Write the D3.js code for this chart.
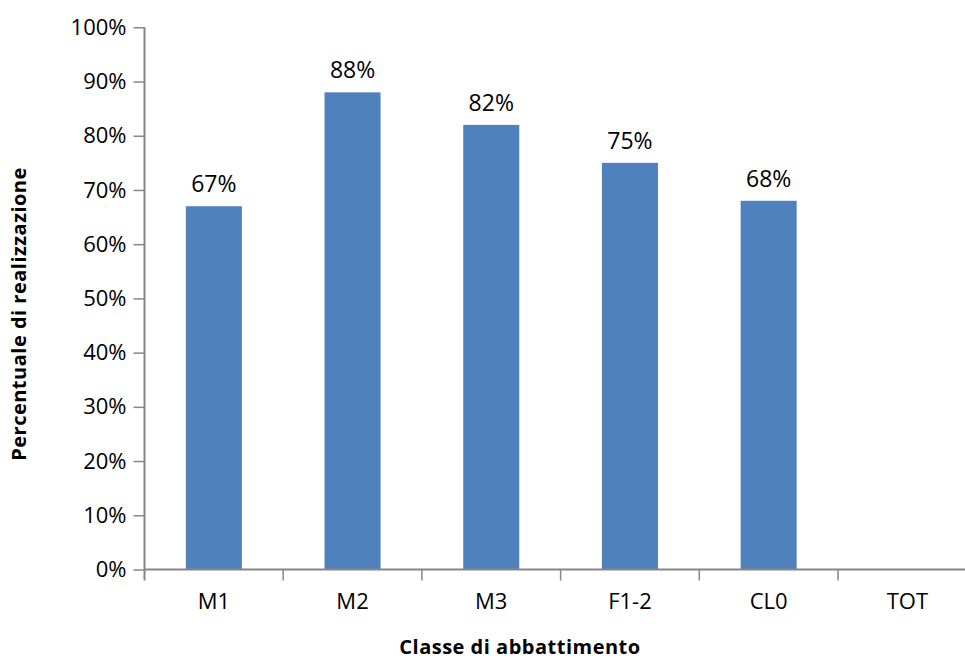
<!DOCTYPE html>
<html>
<head>
<meta charset="utf-8">
<script src="https://cdn.jsdelivr.net/npm/d3@7/dist/d3.min.js"></script>
<style>
  html, body { margin: 0; padding: 0; background: #fff; }
  svg { display: block; }
  text { font-family: "Open Sans", "Liberation Sans", sans-serif; fill: #000; }
</style>
</head>
<body>
<svg id="chart" width="965" height="660"></svg>
<script>
// Categories and realisation percentages (TOT has no value)
const categories = ["M1", "M2", "M3", "F1-2", "CL0", "TOT"];
const values = [0.67, 0.88, 0.82, 0.75, 0.68, null];
const yTicks = [0, 0.1, 0.2, 0.3, 0.4, 0.5, 0.6, 0.7, 0.8, 0.9, 1.0];
const yTitle = "Percentuale di realizzazione";
const xTitle = "Classe di abbattimento";

const svg = d3.select("#chart");
const axisColor = "#868686";
const barColor = "#4F81BD";

const plotLeft = 144.5, plotBottom = 569.5, plotTop = 27.3;
const step = 138.7;

const y = d3.scaleLinear().domain([0, 1]).range([plotBottom, plotTop]);
const x = d3.scaleBand()
  .domain(categories)
  .range([plotLeft, plotLeft + step * categories.length])
  .paddingInner(0.596)
  .paddingOuter(0.298);

const fmt = d3.format(".0%");

// Bars
const data = categories.map((c, i) => ({ c, v: values[i] })).filter(d => d.v != null);
svg.append("g").selectAll("rect")
  .data(data)
  .join("rect")
  .attr("x", d => x(d.c))
  .attr("y", d => y(d.v))
  .attr("width", x.bandwidth())
  .attr("height", d => y(0) - y(d.v))
  .attr("fill", barColor);

// Value labels above bars
svg.append("g").selectAll("text")
  .data(data)
  .join("text")
  .attr("x", d => x(d.c) + x.bandwidth() / 2)
  .attr("y", d => y(d.v) - 14)
  .attr("text-anchor", "middle")
  .attr("font-size", 23)
  .text(d => fmt(d.v));

// Y axis
const yAxis = d3.axisLeft(y).tickValues(yTicks).tickFormat(fmt).tickSize(11).tickPadding(7);
const gy = svg.append("g").attr("transform", `translate(${plotLeft},0)`).call(yAxis);
gy.select(".domain").remove();
gy.selectAll(".tick line").attr("stroke", axisColor).attr("stroke-width", 1.5);
gy.selectAll(".tick text").attr("font-size", 22).attr("font-family", "Open Sans").attr("fill", "#000");
svg.append("line")
  .attr("x1", plotLeft).attr("x2", plotLeft)
  .attr("y1", plotTop).attr("y2", plotBottom + 11)
  .attr("stroke", axisColor).attr("stroke-width", 2);

// X axis: line, boundary ticks and category labels
const xBase = d3.scaleLinear().domain([0, categories.length]).range([plotLeft, plotLeft + step * categories.length]);
svg.append("line")
  .attr("x1", plotLeft).attr("x2", xBase(categories.length))
  .attr("y1", plotBottom).attr("y2", plotBottom)
  .attr("stroke", axisColor).attr("stroke-width", 2);
svg.append("g").selectAll("line")
  .data(d3.range(1, categories.length + 1))
  .join("line")
  .attr("x1", d => xBase(d)).attr("x2", d => xBase(d))
  .attr("y1", plotBottom).attr("y2", plotBottom + 11)
  .attr("stroke", axisColor).attr("stroke-width", 1.5);
svg.append("g").selectAll("text")
  .data(categories)
  .join("text")
  .attr("x", d => x(d) + x.bandwidth() / 2)
  .attr("y", 609)
  .attr("text-anchor", "middle")
  .attr("font-size", 22)
  .text(d => d);

// Axis titles
svg.append("text")
  .attr("transform", "translate(26,314) rotate(-90)")
  .attr("text-anchor", "middle")
  .attr("font-size", 20)
  .attr("font-weight", "bold")
  .attr("letter-spacing", 0.5)
  .text(yTitle);
svg.append("text")
  .attr("x", 520)
  .attr("y", 654)
  .attr("text-anchor", "middle")
  .attr("font-size", 20)
  .attr("font-weight", "bold")
  .attr("letter-spacing", 0.5)
  .text(xTitle);
</script>
</body>
</html>
